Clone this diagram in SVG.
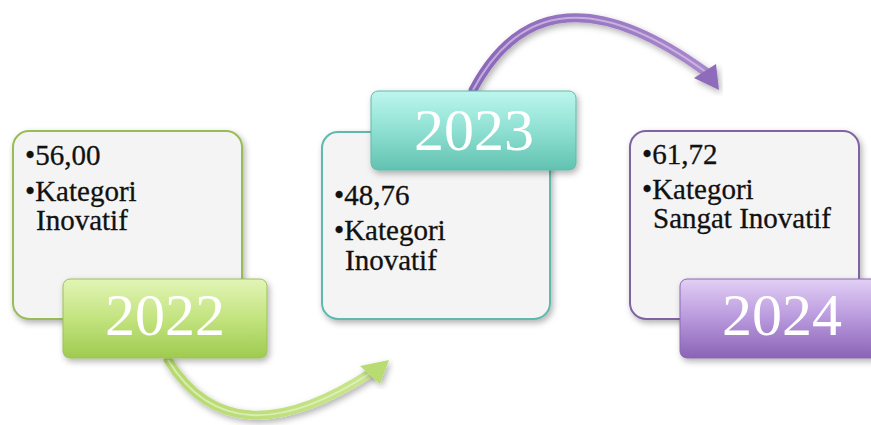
<svg xmlns="http://www.w3.org/2000/svg" width="871" height="425" viewBox="0 0 871 425">
<defs>
<filter id="sh" x="-10%" y="-10%" width="125%" height="130%">
<feDropShadow dx="2" dy="3" stdDeviation="3" flood-color="#000" flood-opacity="0.3"/>
</filter>
<linearGradient id="gG" x1="0" y1="0" x2="0" y2="1">
<stop offset="0" stop-color="#e2f5b6"/><stop offset="0.5" stop-color="#c3e37f"/><stop offset="1" stop-color="#9fcb50"/>
</linearGradient>
<linearGradient id="gT" x1="0" y1="0" x2="0" y2="1">
<stop offset="0" stop-color="#bdf6ee"/><stop offset="0.5" stop-color="#8ee0d2"/><stop offset="1" stop-color="#62c2b1"/>
</linearGradient>
<linearGradient id="gP" x1="0" y1="0" x2="0" y2="1">
<stop offset="0" stop-color="#e2cff5"/><stop offset="0.5" stop-color="#b898dc"/><stop offset="1" stop-color="#8a63b6"/>
</linearGradient>
<linearGradient id="aG" x1="0" y1="0" x2="1" y2="0">
<stop offset="0" stop-color="#b6d96e"/><stop offset="1" stop-color="#c9e58e"/>
</linearGradient>
<linearGradient id="aP" x1="0" y1="0" x2="1" y2="0">
<stop offset="0" stop-color="#8a67b8"/><stop offset="1" stop-color="#a888cc"/>
</linearGradient>
</defs>
<style>
.box{fill:#f4f4f4;stroke-width:2;filter:url(#sh)}
.lbl{filter:url(#sh)}
.t{font-family:"Liberation Serif","Times New Roman",serif;font-size:29px;fill:#111;stroke:#111;stroke-width:0.3}
.y{font-family:"Liberation Serif","Times New Roman",serif;font-size:60px;fill:#fff;text-anchor:middle}
</style>
<g id="connectors">
<g id="arrow-2022-2023">
<path d="M168,360 Q232,464 372,372" fill="none" stroke="url(#aG)" stroke-width="9" stroke-linecap="round" filter="url(#sh)"/>
<path d="M168,360 Q232,464 372,372" fill="none" stroke="#e6f5c8" stroke-width="2" opacity="0.7"/>
<polygon points="389,360 360,366 380,384" fill="#b9dc72" filter="url(#sh)"/>
</g>
<g id="arrow-2023-2024">
<path d="M473,90 Q545,-45 706,72" fill="none" stroke="url(#aP)" stroke-width="9" stroke-linecap="round" filter="url(#sh)"/>
<path d="M473,90 Q545,-45 706,72" fill="none" stroke="#d8c8ec" stroke-width="2" opacity="0.7"/>
<polygon points="719,90 694,78 716,64" fill="#8e6cbb" filter="url(#sh)"/>
</g>
</g>
<g id="node-2022">
<rect class="box" x="13" y="131" width="229" height="188" rx="16" stroke="#9bbb59"/>
<text class="t" x="25" y="165">•56,00</text>
<text class="t" x="25" y="201">•Kategori</text>
<text class="t" x="36" y="230">Inovatif</text>
<rect class="lbl" x="63" y="279" width="204" height="79" rx="7" fill="url(#gG)" stroke="#9cc05a" stroke-width="1"/>
<text class="y" x="165" y="335">2022</text>
</g>
<g id="node-2023">
<rect class="box" x="322" y="132" width="228" height="187" rx="16" stroke="#5fb9ad"/>
<text class="t" x="334" y="205">•48,76</text>
<text class="t" x="334" y="240">•Kategori</text>
<text class="t" x="345" y="270">Inovatif</text>
<rect class="lbl" x="371" y="91" width="205" height="79" rx="7" fill="url(#gT)" stroke="#5fbaa9" stroke-width="1"/>
<text class="y" x="474" y="150">2023</text>
</g>
<g id="node-2024">
<rect class="box" x="630" y="131" width="229" height="188" rx="16" stroke="#8064a2"/>
<text class="t" x="642" y="164">•61,72</text>
<text class="t" x="642" y="199">•Kategori</text>
<text class="t" x="653" y="228">Sangat Inovatif</text>
<rect class="lbl" x="680" y="279" width="205" height="79" rx="7" fill="url(#gP)" stroke="#8a68b5" stroke-width="1"/>
<text class="y" x="782" y="335">2024</text>
</g>
</svg>
